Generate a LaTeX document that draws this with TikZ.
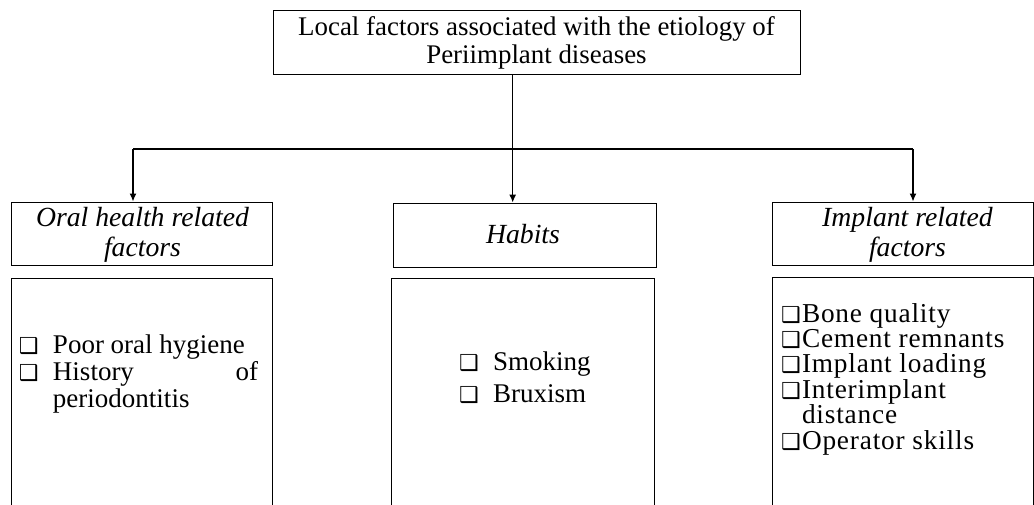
\documentclass[tikz,border=0pt]{standalone}
\usepackage{fontspec}
\setmainfont{Liberation Serif}
\newfontfamily\dvfont{DejaVu Sans}
\newfontfamily\spacedfont[LetterSpace=3]{Liberation Serif}
\usetikzlibrary{arrows.meta}
\newcommand\fsz[2]{\fontsize{#1}{#2}\selectfont}
\newcommand\cbox{{\dvfont\fsz{22}{22}\char"2751}}
\newcommand\lines[2]{\vtop{\baselineskip=#1\lineskiplimit=-30pt\lineskip=0pt #2}}
\tikzset{
  boxst/.style={draw=black, line width=1pt, rectangle, inner sep=0pt},
  txt/.style={inner sep=0pt, outer sep=0pt, text=black},
  conn/.style={draw=black, line width=1.2pt},
  arr/.style={conn, -{Latex[length=8pt,width=7pt]}},
}
\begin{document}
\begin{tikzpicture}[x=1pt,y=-1pt]
\useasboundingbox (0,0) rectangle (1034,504);
% boxes
\node[boxst, minimum width=527pt, minimum height=64pt] (top) at (536.5,42) {};
\node[boxst, minimum width=261pt, minimum height=63pt] (oral) at (141.5,233.5) {};
\node[boxst, minimum width=263pt, minimum height=64pt] (hab) at (524.5,235) {};
\node[boxst, minimum width=261pt, minimum height=63pt] (imp) at (902.5,233.5) {};
\node[boxst, minimum width=261pt, minimum height=250pt] (oralc) at (141.5,403) {};
\node[boxst, minimum width=263pt, minimum height=250pt] (habc) at (522.5,403) {};
\node[boxst, minimum width=261pt, minimum height=250pt] (impc) at (902.5,402) {};
% texts
\node[txt, anchor=base] (toptxt) at (536.5,35.7) {\fsz{26.9}{27.3}\begin{tabular}[t]{@{}c@{}}Local factors associated with the etiology of\\ Periimplant diseases\end{tabular}};
\node[txt, anchor=base] (oraltxt) at (142.5,226.7) {\fsz{27.7}{30}\itshape\begin{tabular}[t]{@{}c@{}}Oral health related\\ factors\end{tabular}};
\node[txt, anchor=base] (habtxt) at (523,243) {\fsz{27.7}{30}\itshape Habits};
\node[txt, anchor=base] (imptxt) at (907.5,226.7) {\fsz{27.7}{30}\itshape\begin{tabular}[t]{@{}c@{}}Implant related\\ factors\end{tabular}};
% lists
\node[txt, anchor=base west] (orallist) at (19,353) {\fsz{27}{27}\lines{27pt}{\hbox{\makebox[34pt][l]{\cbox}Poor oral hygiene}\hbox{\makebox[34pt][l]{\cbox}\makebox[205pt][s]{History\hfill of}}\hbox{\hspace*{34pt}periodontitis}}};
\node[txt, anchor=base west] (hablist) at (459,370) {\fsz{27}{32}\lines{32pt}{\hbox{\makebox[34pt][l]{\cbox}Smoking}\hbox{\makebox[34pt][l]{\cbox}Bruxism}}};
\node[txt, anchor=base west] (implist) at (781,322) {\spacedfont\fsz{27.3}{25.4}\lines{25.4pt}{\hbox{\makebox[21pt][l]{\cbox}Bone quality}\hbox{\makebox[21pt][l]{\cbox}Cement remnants}\hbox{\makebox[21pt][l]{\cbox}Implant loading}\hbox{\makebox[21pt][l]{\cbox}Interimplant}\hbox{\hspace*{21pt}distance}\hbox{\makebox[21pt][l]{\cbox}Operator skills}}};
% connectors
\coordinate (jm) at (512.7,149);
\coordinate (jl) at (133,149);
\coordinate (jr) at (913,149);
\draw[conn] (top.south -| jm) -- (jm);
\draw[conn] (jl) -- (jr);
\draw[arr] (jl) -- (jl |- oral.north);
\draw[arr] (jm) -- (jm |- hab.north);
\draw[arr] (jr) -- (jr |- imp.north);
\end{tikzpicture}
\end{document}
